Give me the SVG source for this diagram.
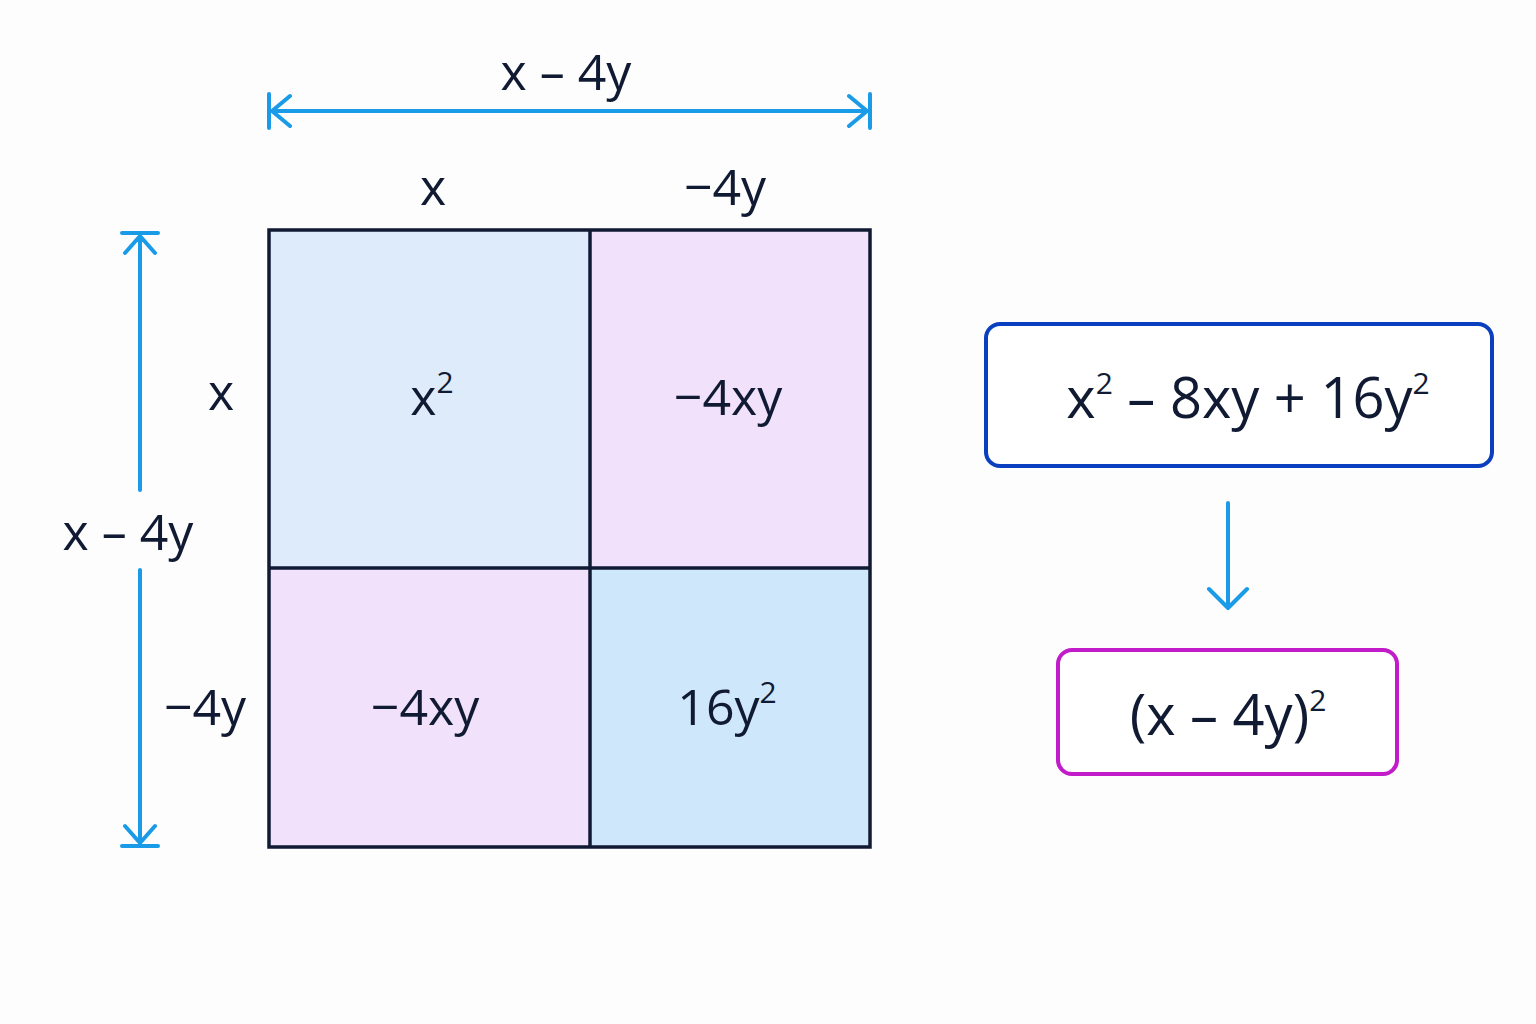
<svg xmlns="http://www.w3.org/2000/svg" width="1536" height="1024" viewBox="0 0 1536 1024">
<style>
text{font-family:"Open Sans","Noto Sans",sans-serif;fill:#111a33;text-anchor:middle}
.t{font-size:50px}
.s{font-size:30px}
.dim{stroke:#1a9be8;stroke-width:4;fill:none;stroke-linecap:round;stroke-linejoin:round}
.grid{stroke:#111a33;stroke-width:3.5;fill:none}
</style>
<rect width="1536" height="1024" fill="#fdfdfd"/>
<g id="cells">
<rect x="269" y="230" width="321" height="338" fill="#deebfb"/>
<rect x="590" y="230" width="280" height="338" fill="#f2e1fa"/>
<rect x="269" y="568" width="321" height="279" fill="#f2e1fa"/>
<rect x="590" y="568" width="280" height="279" fill="#cfe7fb"/>
<rect class="grid" x="269" y="230" width="601" height="617"/>
<line class="grid" x1="590" y1="230" x2="590" y2="847"/>
<line class="grid" x1="269" y1="568" x2="870" y2="568"/>
<text class="t" x="432" y="415">x<tspan class="s" dy="-22">2</tspan></text>
<text class="t" x="728" y="415">−4xy</text>
<text class="t" x="425" y="725">−4xy</text>
<text class="t" x="727" y="725">16y<tspan class="s" dy="-22">2</tspan></text>
</g>
<g id="connectors">
<path class="dim" d="M272 111H867M269 94V128M870 94V128M290 96L272 111L290 126M849 96L867 111L849 126"/>
<path class="dim" d="M140 236V490M140 570V843M122 233H158M122 846H158M125 253L140 236L155 253M125 826L140 843L155 826"/>
<path class="dim" d="M1228 503V608M1209 589L1228 608L1247 589"/>
</g>
<g id="labels">
<text class="t" x="566" y="90">x – 4y</text>
<text class="t" x="433" y="205">x</text>
<text class="t" x="725" y="205">−4y</text>
<text class="t" x="221" y="410">x</text>
<text class="t" x="128" y="550">x – 4y</text>
<text class="t" x="205" y="725">−4y</text>
</g>
<g id="expanded">
<rect x="986" y="324" width="506" height="142" rx="14" fill="#fff" stroke="#0a3fc0" stroke-width="4"/>
<text x="1248" y="418" style="font-size:56px">x<tspan class="s" dy="-24">2</tspan><tspan dy="24"> – 8xy + 16y</tspan><tspan class="s" dy="-24">2</tspan></text>
</g>
<g id="factored">
<rect x="1058" y="650" width="339" height="124" rx="14" fill="#fff" stroke="#c21bc9" stroke-width="4"/>
<text x="1228" y="735" style="font-size:56px">(x – 4y)<tspan class="s" dy="-24">2</tspan></text>
</g>
</svg>
